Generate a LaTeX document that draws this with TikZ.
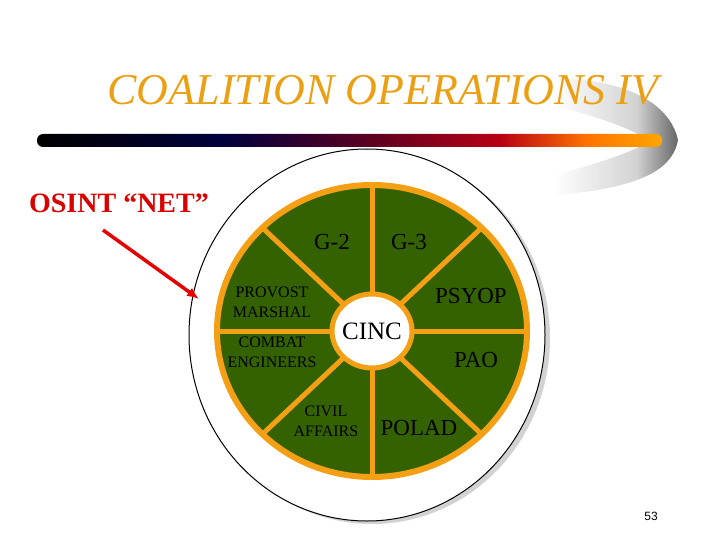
\documentclass[tikz,border=0pt]{standalone}
\usepackage{fontspec}
\setmainfont{Liberation Serif}
\setsansfont{Liberation Sans}
\usetikzlibrary{arrows.meta}
\pgfdeclarehorizontalshading{barshade}{100bp}{color(0bp)=(black); color(25bp)=(black); color(40bp)=(black!60!blue!60!black); color(52bp)=(black!50!purple); color(62bp)=(red!60!purple!80!black); color(69bp)=(orange!90!red); color(75bp)=(orange!70!yellow); color(100bp)=(orange!70!yellow)}
\pgfdeclarehorizontalshading{swoosh}{100bp}{color(0bp)=(white); color(45bp)=(white); color(65bp)=(gray!35); color(75bp)=(gray!80!black); color(100bp)=(gray!80!black)}
\definecolor{grn}{RGB}{52,98,0}
\definecolor{org}{RGB}{245,160,20}
\definecolor{gold}{RGB}{235,160,20}
\begin{document}
\begin{tikzpicture}[x=1pt,y=-1pt,
  lbl/.style={font=\fontsize{23}{23}\selectfont, text=black},
  sml/.style={font=\fontsize{16}{20}\selectfont, align=center, text=black, inner sep=0pt},
  spoke/.style={draw=org, line width=5pt}]
\useasboundingbox (0,0) rectangle (720,540);
% swoosh shadow
\shade[shading=swoosh] (470,90) .. controls (560,65) and (665,80) .. (678,140) .. controls (670,185) and (600,195) .. (480,200) .. controls (540,175) and (610,165) .. (650,141) .. controls (610,115) and (530,100) .. (470,90) -- cycle;
\node[font=\fontsize{44}{44}\selectfont\itshape, text=gold, anchor=base] (title) at (383,105) {COALITION OPERATIONS IV};
\shade[shading=barshade, rounded corners=6pt] (37,134) rectangle (662,147);
% outer circle shadow and circle
\fill[gray!35] (372,338) ellipse (178 and 186);
\draw[black, fill=white, line width=1pt] (367,335) ellipse (178 and 186);
% green wheel
\coordinate (c) at (372,331);
\fill[grn] (c) ellipse (155 and 146);
\foreach \a in {0,45,...,315}{ \draw[spoke] (c) -- ++(\a:155 and 146); }
\draw[org, line width=6pt] (c) ellipse (155 and 146);
\draw[org, line width=5pt, fill=white] (c) ellipse (40 and 37);
\node[font=\fontsize{25}{25}\selectfont] (cinc) at (372,331) {CINC};
\node[lbl] (g2) at (332,242) {G-2};
\node[lbl] (g3) at (409,242) {G-3};
\node[lbl] (psyop) at (471,296) {PSYOP};
\node[lbl] (pao) at (476,360) {PAO};
\node[lbl] (polad) at (419,428) {POLAD};
\node[sml] (civil) at (326,421) {CIVIL\\AFFAIRS};
\node[sml] (combat) at (272,352) {COMBAT\\ENGINEERS};
\node[sml] (provost) at (272,302) {PROVOST\\MARSHAL};
\node[font=\fontsize{28}{28}\selectfont\bfseries, text=red!85!black] (osint) at (119,203) {OSINT “NET”};
\coordinate (tail) at (103,230);
\coordinate (tip) at (199,299);
\draw[red!90!black, line width=3.5pt, -{Latex[length=12pt,width=10pt]}] (tail) -- (tip);
\node[font=\sffamily\fontsize{12}{12}\selectfont] (num) at (651,516) {53};
\end{tikzpicture}
\end{document}
